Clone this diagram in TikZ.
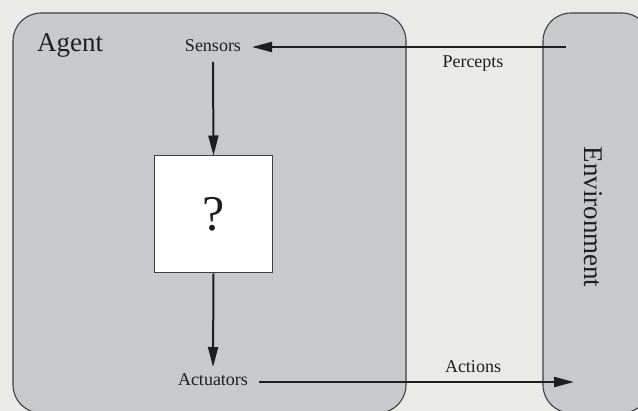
\documentclass[tikz,border=0pt]{standalone}
\usepackage{fontspec}
\setmainfont{Liberation Serif}
\usetikzlibrary{arrows.meta}
\definecolor{bg}{HTML}{EAEAE8}
\definecolor{panel}{HTML}{C8C9CB}
\definecolor{ink}{HTML}{1E1E1E}
\begin{document}
\begin{tikzpicture}[x=1pt,y=-1pt,
  panelbox/.style={draw=ink!85,line width=1.1pt,fill=panel,rounded corners=28pt},
  lbl/.style={inner sep=0pt,font=\fontsize{18}{20}\selectfont,text=ink},
  big/.style={inner sep=0pt,font=\fontsize{27}{30}\selectfont,text=ink},
  flow/.style={draw=ink,line width=2pt,-{Triangle[length=20pt,width=10pt]}}]
\useasboundingbox (0,0) rectangle (638,411);
\fill[bg] (0,0) rectangle (638,411);
\begin{scope}
\clip (0,0) rectangle (638,411);
\draw[panelbox] (13,13) rectangle (406,413);
\draw[panelbox] (543,13) rectangle (650,413);
\end{scope}
\node[big,anchor=base west] (agent) at (37,52) {Agent};
\node[lbl,anchor=base] (sensors) at (213,52) {Sensors};
\node[lbl,anchor=base] (actuators) at (213,386) {Actuators};
\node[lbl,anchor=base] (percepts) at (473,68) {Percepts};
\node[lbl,anchor=base] (actions) at (473,373) {Actions};
\node[big,rotate=-90] (env) at (593,217) {Environment};
\node[draw=ink!85,line width=1pt,fill=white,minimum width=118pt,minimum height=117pt,inner sep=0pt,font=\fontsize{50}{52}\selectfont,text=ink] (q) at (213.5,214.5) {?};
\coordinate (pstart) at (566,47);
\coordinate (sin) at (252,47);
\coordinate (sout) at (213,62);
\coordinate (ain) at (213,367);
\coordinate (aout) at (259,382);
\coordinate (aend) at (574,382);
\draw[flow] (pstart) -- (sin);
\draw[flow] (sout) -- (q.north);
\draw[flow] (q.south) -- (ain);
\draw[flow] (aout) -- (aend);
\end{tikzpicture}
\end{document}
